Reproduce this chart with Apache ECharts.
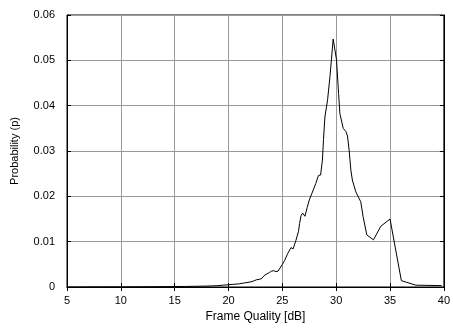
<!DOCTYPE html>
<html>
<head>
<meta charset="utf-8">
<script src="https://cdn.jsdelivr.net/npm/echarts@6/dist/echarts.min.js"></script>
<style>html,body{margin:0;padding:0;background:#fff}#c{width:453px;height:330px}</style>
</head>
<body>
<div id="c"></div>
<script>
var xValues = [5, 6, 7, 8, 9, 10, 11, 12, 13, 14, 15, 16, 17, 18, 18.5, 19, 19.5, 20, 20.5, 21, 21.5, 22, 22.3, 22.6, 22.9, 23.1, 23.3, 23.5, 23.8, 24.0, 24.2, 24.4, 24.6, 24.75, 25.0, 25.2, 25.5, 25.8, 26.0, 26.25, 26.5, 26.6, 26.73, 26.88, 27.1, 27.3, 27.5, 27.75, 27.9, 28.1, 28.35, 28.55, 28.72, 28.82, 28.95, 29.2, 29.42, 29.72, 30.03, 30.22, 30.34, 30.65, 30.9, 31.05, 31.2, 31.36, 31.5, 31.82, 32.28, 32.5, 32.84, 33.46, 34.14, 35.0, 36.05, 37.4, 39.8];
var yValues = [0, 0, 0.00002, 0.00002, 0.00003, 0.00003, 0.00004, 0.00005, 0.00006, 0.00008, 0.0001, 0.00012, 0.00016, 0.0002, 0.00025, 0.0003, 0.0004, 0.0005, 0.0006, 0.0007, 0.0009, 0.0011, 0.0013, 0.0016, 0.0017, 0.0019, 0.0025, 0.0028, 0.0032, 0.0035, 0.0036, 0.0034, 0.0035, 0.0038, 0.0050, 0.0058, 0.0074, 0.0087, 0.0084, 0.0102, 0.0123, 0.0140, 0.0157, 0.0163, 0.0156, 0.0175, 0.0192, 0.0207, 0.0211, 0.0228, 0.0246, 0.0247, 0.0280, 0.0325, 0.0375, 0.0413, 0.0464, 0.0547, 0.0501, 0.0427, 0.0383, 0.0350, 0.0343, 0.0333, 0.0302, 0.0258, 0.0236, 0.0210, 0.0188, 0.0155, 0.0115, 0.0104, 0.0134, 0.0150, 0.0014, 0.0004, 0.0003];
var xTicks = [5, 10, 15, 20, 25, 30, 35, 40];
var yTicks = [0, 0.01, 0.02, 0.03, 0.04, 0.05, 0.06];

var points = xValues.map(function (x, i) { return [x, yValues[i]]; });
var font = 'Liberation Sans, Arial, sans-serif';
var chart = echarts.init(document.getElementById('c'), null, {renderer: 'canvas'});
var tickStyle = {show: true, inside: true, length: 4, lineStyle: {color: '#000', width: 1}};
chart.setOption({
  animation: false,
  grid: {left: 67, right: 8, top: 15, bottom: 43, show: true, borderColor: '#000', borderWidth: 1, backgroundColor: 'transparent'},
  xAxis: [{
    type: 'value', min: xTicks[0], max: xTicks[xTicks.length - 1], interval: 5,
    name: 'Frame Quality [dB]', nameLocation: 'middle', nameGap: 24,
    nameTextStyle: {fontFamily: font, fontSize: 12, color: '#000'},
    axisLine: {show: true, lineStyle: {color: '#000'}},
    axisTick: tickStyle,
    axisLabel: {fontFamily: font, fontSize: 11, color: '#000', margin: 8},
    splitLine: {show: true, lineStyle: {color: '#999', width: 1}}
  }, {
    type: 'value', position: 'top', min: xTicks[0], max: xTicks[xTicks.length - 1], interval: 5,
    axisLine: {show: true, lineStyle: {color: '#000'}}, axisTick: tickStyle,
    axisLabel: {show: false}, splitLine: {show: false}
  }],
  yAxis: [{
    type: 'value', min: yTicks[0], max: yTicks[yTicks.length - 1], interval: 0.01,
    name: 'Probability (p)', nameLocation: 'middle', nameGap: 47, nameRotate: 90,
    nameTextStyle: {fontFamily: font, fontSize: 11, color: '#000'},
    axisLine: {show: true, lineStyle: {color: '#000'}},
    axisTick: tickStyle,
    axisLabel: {fontFamily: font, fontSize: 11, color: '#000', margin: 12,
      formatter: function (v) { return v === 0 ? '0' : v.toFixed(2); }},
    splitLine: {show: true, lineStyle: {color: '#999', width: 1}}
  }, {
    type: 'value', position: 'right', min: yTicks[0], max: yTicks[yTicks.length - 1], interval: 0.01,
    axisLine: {show: true, lineStyle: {color: '#000'}}, axisTick: tickStyle,
    axisLabel: {show: false}, splitLine: {show: false}
  }],
  series: [{
    type: 'line', data: points, showSymbol: false, symbol: 'none',
    lineStyle: {color: '#000', width: 1}, xAxisIndex: 0, yAxisIndex: 0
  }]
});
</script>
</body>
</html>
